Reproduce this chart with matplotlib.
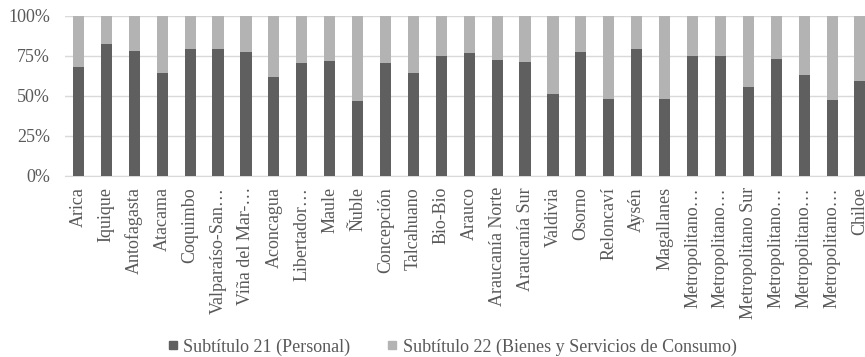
import matplotlib
matplotlib.use("Agg")
import matplotlib.pyplot as plt
from matplotlib.lines import Line2D
from matplotlib.ticker import PercentFormatter

plt.rcParams["font.family"] = ["Liberation Serif", "DejaVu Serif"]

# ── datos ──
regiones = [
    "Arica", "Iquique", "Antofagasta", "Atacama", "Coquimbo",
    "Valparaíso-San…", "Viña del Mar-…", "Aconcagua", "Libertador…", "Maule",
    "Ñuble", "Concepción", "Talcahuano", "Bio-Bio", "Arauco",
    "Araucanía Norte", "Araucanía Sur", "Valdivia", "Osorno", "Reloncaví",
    "Aysén", "Magallanes", "Metropolitano…", "Metropolitano…", "Metropolitano Sur",
    "Metropolitano…", "Metropolitano…", "Metropolitano…", "Chiloe",
]
sub21 = [
    68.3, 82.3, 77.9, 64.3, 79.1, 79.3, 77.5, 62.0, 70.4, 71.6,
    46.8, 70.8, 64.3, 75.0, 76.6, 72.6, 71.2, 51.3, 77.6, 48.2,
    79.3, 48.0, 75.1, 74.8, 55.7, 73.1, 62.9, 47.4, 59.5,
]
sub22 = [100 - v for v in sub21]

labels = ["Subtítulo 21 (Personal)",
          "Subtítulo 22 (Bienes y Servicios de Consumo)"]
colors = ["#5f5f5f", "#b3b3b3"]
txt = "#595959"
fs = 13

fig = plt.figure(figsize=(8.65, 3.57), dpi=100)
W, H = 865, 357
left, right = 64.5, 874
ax = fig.add_axes([left / W, 1 - 176 / H, (right - left) / W, 160 / H])

x = list(range(len(regiones)))
ax.bar(x, sub21, width=0.4, color=colors[0], zorder=3)
ax.bar(x, sub22, width=0.4, bottom=sub21, color=colors[1], zorder=3)

ax.set_xlim(-0.5, len(regiones) - 0.5)
ax.set_ylim(0, 100)
ax.set_yticks([0, 25, 50, 75, 100])
ax.yaxis.set_major_formatter(PercentFormatter(decimals=0))
ax.set_xticks(x)
ax.set_xticklabels(regiones, rotation=90)
ax.tick_params(axis="both", length=0, labelsize=fs, colors=txt)
ax.tick_params(axis="x", pad=8)
ax.tick_params(axis="y", pad=10.5)
ax.grid(axis="y", color="#d9d9d9", linewidth=1, zorder=0)
for s in ["top", "right", "left"]:
    ax.spines[s].set_visible(False)
ax.spines["bottom"].set_color("#d9d9d9")

handles = [Line2D([], [], marker="s", linestyle="none", markersize=6,
                  color=c) for c in colors]
fig.legend(handles, labels, loc="center", bbox_to_anchor=(452 / W, 1 - 347 / H),
           ncol=2, frameon=False, fontsize=fs, labelcolor=txt,
           handlelength=0.6, handletextpad=0.3, columnspacing=2.0)

fig.savefig("out.png", dpi=100)
